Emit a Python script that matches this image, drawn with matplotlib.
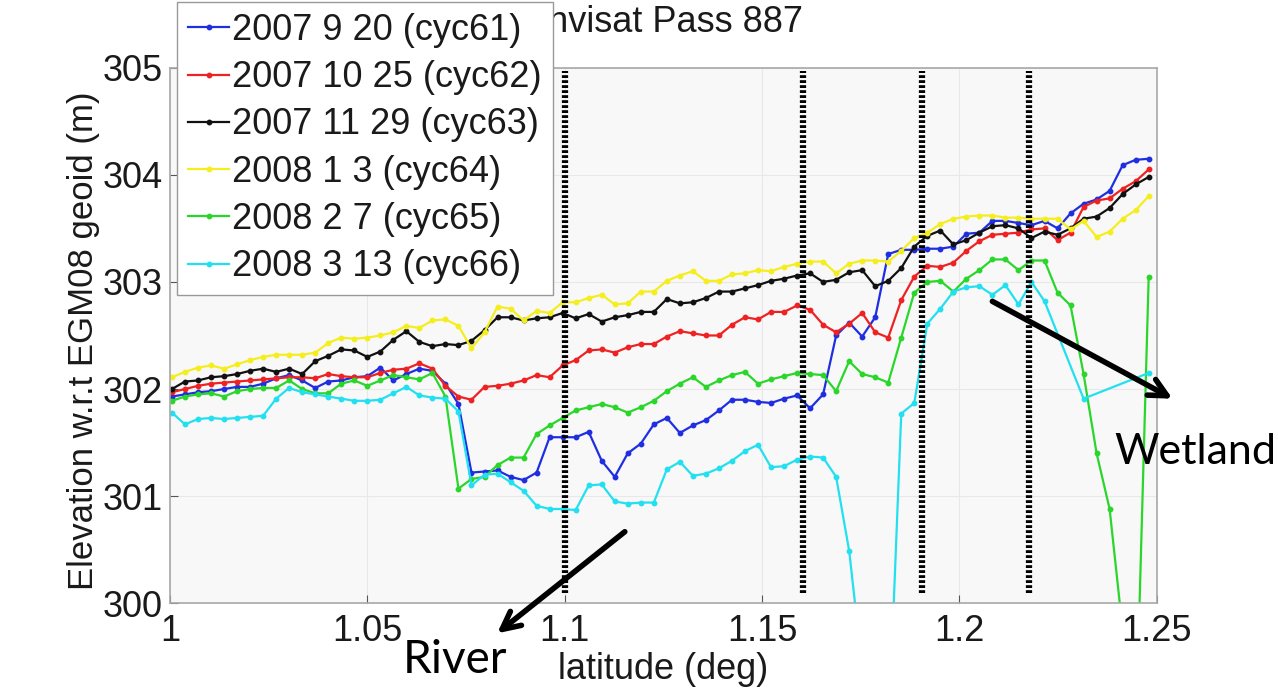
import numpy as np
import matplotlib
matplotlib.use('Agg')
import matplotlib.pyplot as plt

plt.rcParams['font.family'] = ['Liberation Sans', 'DejaVu Sans']

# along-track sampling (deg)
lat_start = 1.0005
lat_step = 0.0033
n_pts = 76
lat = np.round(lat_start + lat_step * np.arange(n_pts), 4)

labels = ['2007 9 20 (cyc61)', '2007 10 25 (cyc62)', '2007 11 29 (cyc63)',
          '2008 1 3 (cyc64)', '2008 2 7 (cyc65)', '2008 3 13 (cyc66)']
colors = ['#1f2fe0', '#ee2222', '#111111', '#f5ee1e', '#2ad62a', '#22e0ef']

# elevations (m), one value per lat sample, nan = no measurement
cyc61 = [301.93, 301.95, 301.97, 301.98, 302.00, 302.02, 302.02, 302.05, 302.10, 302.13,
         302.08, 302.01, 302.07, 302.08, 302.11, 302.12, 302.20, 302.08, 302.14, 302.19,
         302.17, 302.05, 301.86, 301.22, 301.23, 301.24, 301.18, 301.15, 301.22, 301.55,
         301.55, 301.55, 301.60, 301.33, 301.18, 301.40, 301.49, 301.67, 301.73, 301.59,
         301.66, 301.71, 301.80, 301.90, 301.90, 301.88, 301.87, 301.91, 301.94, 301.82,
         301.95, 302.50, 302.62, 302.49, 302.67, 303.26, 303.30, 303.30, 303.31, 303.31,
         303.33, 303.45, 303.46, 303.57, 303.57, 303.55, 303.53, 303.57, 303.50, 303.64,
         303.73, 303.77, 303.85, 304.09, 304.14, 304.15]
cyc62 = [301.97, 302.00, 302.03, 302.05, 302.06, 302.07, 302.08, 302.09, 302.10, 302.11,
         302.11, 302.10, 302.14, 302.12, 302.11, 302.11, 302.15, 302.18, 302.19, 302.24,
         302.19, 302.03, 301.93, 301.90, 302.02, 302.03, 302.05, 302.08, 302.13, 302.11,
         302.22, 302.27, 302.36, 302.37, 302.34, 302.39, 302.42, 302.42, 302.49, 302.54,
         302.52, 302.50, 302.50, 302.60, 302.67, 302.65, 302.72, 302.72, 302.78, 302.74,
         302.60, 302.53, 302.61, 302.71, 302.53, 302.48, 302.83, 303.05, 303.15, 303.14,
         303.18, 303.29, 303.38, 303.44, 303.45, 303.46, 303.49, 303.50, 303.39, 303.46,
         303.70, 303.76, 303.78, 303.87, 303.94, 304.05]
cyc63 = [302.00, 302.07, 302.08, 302.11, 302.12, 302.14, 302.17, 302.19, 302.16, 302.19,
         302.14, 302.26, 302.31, 302.37, 302.36, 302.30, 302.35, 302.46, 302.54, 302.44,
         302.40, 302.42, 302.41, 302.45, 302.55, 302.67, 302.67, 302.64, 302.66, 302.67,
         302.71, 302.66, 302.70, 302.63, 302.67, 302.69, 302.72, 302.72, 302.84, 302.80,
         302.81, 302.85, 302.91, 302.91, 302.94, 302.97, 303.01, 303.03, 303.06, 303.08,
         303.00, 303.02, 303.09, 303.11, 302.96, 303.01, 303.13, 303.33, 303.43, 303.48,
         303.35, 303.39, 303.46, 303.52, 303.53, 303.50, 303.41, 303.47, 303.44, 303.50,
         303.59, 303.61, 303.69, 303.82, 303.91, 303.98]
cyc64 = [302.11, 302.16, 302.20, 302.22, 302.19, 302.23, 302.27, 302.30, 302.32, 302.32,
         302.32, 302.34, 302.43, 302.48, 302.47, 302.48, 302.50, 302.53, 302.59, 302.57,
         302.64, 302.65, 302.59, 302.38, 302.53, 302.77, 302.75, 302.64, 302.73, 302.71,
         302.81, 302.81, 302.85, 302.88, 302.79, 302.80, 302.91, 302.91, 303.01, 303.06,
         303.10, 303.01, 303.01, 303.07, 303.08, 303.11, 303.10, 303.14, 303.17, 303.19,
         303.19, 303.08, 303.17, 303.20, 303.20, 303.19, 303.29, 303.41, 303.46, 303.54,
         303.59, 303.61, 303.62, 303.62, 303.60, 303.60, 303.59, 303.59, 303.59, 303.49,
         303.57, 303.42, 303.47, 303.59, 303.67, 303.80]
cyc65 = [301.89, 301.93, 301.95, 301.96, 301.93, 301.98, 302.00, 302.01, 302.01, 302.08,
         302.00, 301.96, 301.96, 302.05, 302.08, 302.03, 302.08, 302.13, 302.11, 302.09,
         302.15, 301.93, 301.07, 301.16, 301.18, 301.29, 301.36, 301.36, 301.58, 301.66,
         301.73, 301.80, 301.83, 301.86, 301.83, 301.78, 301.83, 301.89, 301.98, 302.05,
         302.11, 302.02, 302.08, 302.13, 302.16, 302.05, 302.09, 302.12, 302.15, 302.14,
         302.13, 301.98, 302.26, 302.14, 302.11, 302.06, 302.48, 302.90, 303.00, 303.01,
         302.91, 303.03, 303.11, 303.21, 303.21, 303.11, 303.20, 303.20, 302.90, 302.78,
         302.14, 301.40, 300.88, 299.75, 298.70, 303.05]
cyc66 = [301.78, 301.67, 301.72, 301.73, 301.72, 301.73, 301.74, 301.75, 301.91, 302.01,
         301.97, 301.95, 301.93, 301.91, 301.89, 301.89, 301.90, 301.96, 302.02, 301.94,
         301.92, 301.91, 301.79, 301.10, 301.20, 301.21, 301.13, 301.05, 300.91, 300.88,
         300.88, 300.87, 301.10, 301.11, 300.95, 300.93, 300.94, 300.94, 301.25, 301.32,
         301.19, 301.21, 301.26, 301.33, 301.42, 301.48, 301.27, 301.28, 301.34, 301.37,
         301.36, 301.18, 300.49, 299.40, 298.60, 298.70, 301.77, 301.87, 302.61, 302.75,
         302.91, 302.95, 302.96, 302.88, 302.97, 302.79, 303.00, 302.82, np.nan, np.nan,
         301.91, np.nan, np.nan, np.nan, np.nan, 302.15]
series = [cyc61, cyc62, cyc63, cyc64, cyc65, cyc66]

# boundaries marked with dotted lines (deg)
boundaries = [1.1001, 1.1605, 1.1905, 1.2177]

fig = plt.figure(figsize=(12.78, 6.91), dpi=100)
ax = fig.add_axes([0.133, 0.127, 0.772, 0.775])
ax.set_facecolor('#f8f8f8')

for vals, col, lab in zip(series, colors, labels):
    v = np.array(vals, dtype=float)
    ok = np.isfinite(v)
    ax.plot(lat[ok], v[ok], '-', color=col, lw=1.6, marker='o', ms=3.2,
            mec=col, mfc=col, label=lab, zorder=2)

ax.vlines(boundaries, 300.1, 304.97, colors='k', linestyles=(0, (0.45, 0.35)),
          linewidth=4.5, zorder=3)

ax.set_xlim(1, 1.25)
ax.set_ylim(300, 305)
ax.set_xticks([1, 1.05, 1.1, 1.15, 1.2, 1.25])
ax.set_xticklabels(['1', '1.05', '1.1', '1.15', '1.2', '1.25'])
ax.set_yticks([300, 301, 302, 303, 304, 305])
ax.tick_params(direction='in', length=6, labelsize=26, colors='#555555',
               labelcolor='#1a1a1a')
ax.tick_params(axis='x', pad=8)
ax.tick_params(axis='y', pad=5)
ax.grid(True, color='#e8e8e8', lw=0.8)
for s in ax.spines.values():
    s.set_color('#a8a8a8')
    s.set_linewidth(1.2)

ax.set_xlabel('latitude (deg)', fontsize=26, color='#1a1a1a', labelpad=2)
ax.set_ylabel('Elevation w.r.t EGM08 geoid (m)', fontsize=25, color='#1a1a1a')
ax.yaxis.set_label_coords(-0.071, 0.49)
ax.set_title('Envisat Pass 887', fontsize=26, color='#1a1a1a', pad=26)

leg = ax.legend(loc='upper left', bbox_to_anchor=(0.1385, 0.997),
                bbox_transform=fig.transFigure, borderaxespad=0, fontsize=26,
                numpoints=1, handlelength=1.15, handletextpad=0.08,
                labelspacing=0.34, borderpad=0.3, fancybox=False, framealpha=1)
leg.get_frame().set_edgecolor('#999999')
leg.get_frame().set_linewidth(1.0)
for t in leg.get_texts():
    t.set_color('#1a1a1a')

# river / wetland annotations
ax.annotate('', xy=(0.3873, 0.081), xytext=(0.4906, 0.233),
            xycoords='figure fraction', textcoords='figure fraction',
            arrowprops=dict(arrowstyle='->', lw=4, color='k', mutation_scale=32))
ax.annotate('', xy=(0.9194, 0.4211), xytext=(0.7746, 0.5658),
            xycoords='figure fraction', textcoords='figure fraction',
            arrowprops=dict(arrowstyle='->', lw=4, color='k', mutation_scale=32))
fig.text(0.356, 0.045, 'River', fontsize=33, family=['Lato', 'DejaVu Sans'],
         ha='center', va='center')
fig.text(0.935, 0.346, 'Wetland', fontsize=31, family=['Lato', 'DejaVu Sans'],
         ha='center', va='center')

fig.savefig('out.png', dpi=100)
